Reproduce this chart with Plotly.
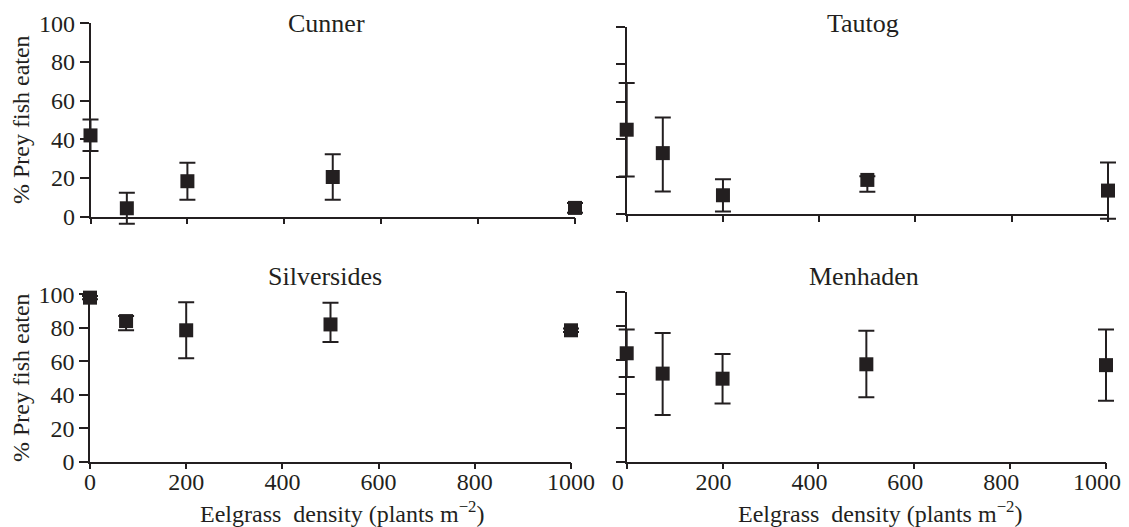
import plotly.graph_objects as go

# ---- data ----
density = [0, 75, 200, 500, 1000]

cunner_mean = [42, 4.3, 18.3, 20.5, 4.5]
cunner_err_plus = [8.2, 8, 9.6, 11.8, 2.5]
cunner_err_minus = [8.0, 8, 9.6, 11.8, 2.5]

tautog_mean = [45, 32.5, 10, 18.2, 12.5]
tautog_err_plus = [25, 19, 8.6, 2, 15]
tautog_err_minus = [25, 20.5, 8.6, 6.3, 15]

silver_mean = [98, 84, 78.5, 82, 78.5]
silver_err_plus = [1, 3, 16.7, 13, 1]
silver_err_minus = [1, 5.5, 16.7, 10.5, 1]

menhaden_mean = [64, 52, 49, 57.5, 57]
menhaden_err_plus = [14, 24, 14.6, 19.8, 21]
menhaden_err_minus = [14, 24.5, 14.6, 19.5, 21]

panel_titles = ["Cunner", "Tautog", "Silversides", "Menhaden"]
x_ticks = [0, 200, 400, 600, 800, 1000]
y_ticks = [0, 20, 40, 60, 80, 100]
y_title = "% Prey fish eaten"
x_title = "Eelgrass\u00a0 density (plants m<sup>\u22122</sup>)"

# ---- style / geometry ----
OFF = 8                      # page body margin
FW, FH = 1129 - OFF, 527 - OFF
INK = "#231f20"
FONT = "Liberation Serif"
X0, X1 = 0, 1000
Y0, Y1 = 0, 100

# screen-pixel frames of each panel: (left, right, top, bottom)
frames = {
    1: (90.5, 575, 23.3, 216.6),
    2: (626.7, 1108, 26.7, 214),
    3: (90, 571, 294.3, 461.7),
    4: (626.7, 1106, 292.3, 461.7),
}
# extra data-range padding so marks are not clipped: (x_pad, y_pad_top, y_pad_bottom)
pads = {1: (40, 5, 10), 2: (40, 5, 10), 3: (40, 10, 10), 4: (40, 10, 10)}


def fx(px):
    return (px - OFF) / FW


def fy(py):
    return 1 - (py - OFF) / FH


fig = go.Figure()

panels = [
    (cunner_mean, cunner_err_plus, cunner_err_minus),
    (tautog_mean, tautog_err_plus, tautog_err_minus),
    (silver_mean, silver_err_plus, silver_err_minus),
    (menhaden_mean, menhaden_err_plus, menhaden_err_minus),
]

for i, (mean, ep, em) in enumerate(panels, start=1):
    sx = "" if i == 1 else str(i)
    fig.add_trace(go.Scatter(
        x=density, y=mean, xaxis="x" + sx, yaxis="y" + sx, mode="markers",
        marker=dict(symbol="square", size=14, color=INK),
        error_y=dict(type="data", symmetric=False, array=ep, arrayminus=em,
                     color=INK, thickness=2, width=8),
        cliponaxis=False, showlegend=False, hoverinfo="x+y",
    ))

axis_common = dict(showline=True, linecolor=INK, linewidth=1.5, ticks="outside",
                   tickcolor=INK, tickwidth=1.5, showgrid=False, zeroline=False,
                   tickfont=dict(family=FONT, size=24, color=INK), automargin=False,
                   ticklabeloverflow="allow")

layout = dict(
    width=FW, height=FH, paper_bgcolor="white", plot_bgcolor="rgba(0,0,0,0)",
    margin=dict(l=0, r=0, t=0, b=0), font=dict(family=FONT, color=INK),
)
for i in range(1, 5):
    l, r, t, b = frames[i]
    xp, ypt, ypb = pads[i]
    sxp = (r - l) / (X1 - X0)
    syp = (b - t) / (Y1 - Y0)
    sx = "" if i == 1 else str(i)
    # hidden data axes (padded so error bars / markers at edges are fully drawn)
    layout["xaxis" + sx] = dict(visible=False, domain=[fx(l - xp * sxp), fx(r + xp * sxp)],
                                range=[X0 - xp, X1 + xp], anchor="y" + sx, fixedrange=True)
    layout["yaxis" + sx] = dict(visible=False, domain=[fy(b + ypb * syp), fy(t - ypt * syp)],
                                range=[Y0 - ypb, Y1 + ypt], anchor="x" + sx, fixedrange=True)
    # visible frame axes
    k = str(i + 4)
    layout["xaxis" + k] = dict(axis_common, domain=[fx(l), fx(r)], range=[X0, X1],
                               tickvals=x_ticks, ticklen=6, ticklabelstandoff=-8,
                               ticklabelshift=(-9 if i == 4 else 0),
                               showticklabels=(i >= 3), anchor="y" + k)
    layout["yaxis" + k] = dict(axis_common, domain=[fy(b), fy(t)], range=[Y0, Y1],
                               tickvals=y_ticks, ticklen=9,
                               showticklabels=(i % 2 == 1), anchor="x" + k)
fig.update_layout(**layout)

# invisible placeholder traces so the frame axes form real subplots
for i in range(1, 5):
    k = str(i + 4)
    fig.add_trace(go.Scatter(x=[None], y=[None], xaxis="x" + k, yaxis="y" + k,
                             mode="markers", showlegend=False, hoverinfo="skip"))

ann = []
title_pos = [(326, 23), (863, 23), (325, 277), (864, 277)]
for txt, (px, py) in zip(panel_titles, title_pos):
    ann.append(dict(text=txt, x=fx(px), y=fy(py), xref="paper", yref="paper",
                    xanchor="center", yanchor="middle", showarrow=False,
                    font=dict(family=FONT, size=26, color=INK)))
for py in [120, 378]:
    ann.append(dict(text=y_title, x=fx(21), y=fy(py), xref="paper", yref="paper",
                    xanchor="center", yanchor="middle", textangle=-90, showarrow=False,
                    font=dict(family=FONT, size=24, color=INK)))
for px in [342, 880]:
    ann.append(dict(text=x_title, x=fx(px), y=fy(512), xref="paper", yref="paper",
                    xanchor="center", yanchor="middle", showarrow=False,
                    font=dict(family=FONT, size=24, color=INK)))
fig.update_layout(annotations=ann)

fig.write_html("out.html")
